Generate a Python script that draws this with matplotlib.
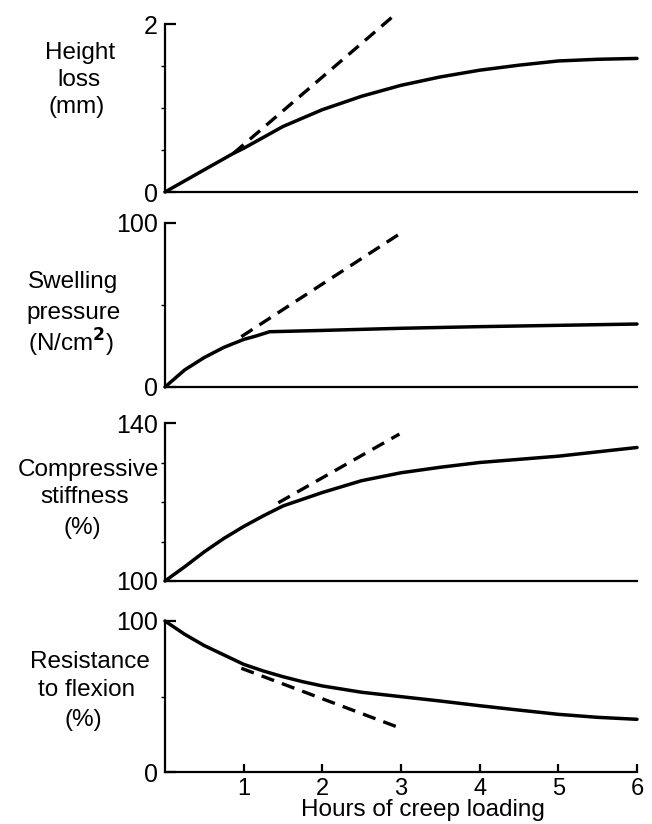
import numpy as np
import matplotlib
matplotlib.use("Agg")
import matplotlib.pyplot as plt

plt.rcParams['font.family'] = ['Liberation Sans', 'DejaVu Sans']

# panel 1 - height loss (mm)
height_x = [0, 0.5, 0.87, 1, 1.25, 1.5, 1.75, 2, 2.5, 3, 3.5, 4, 4.5, 5, 5.5, 6]
height_loss = [0, 0.265, 0.46, 0.52, 0.65, 0.78, 0.88, 0.98, 1.14, 1.27, 1.37, 1.45, 1.51, 1.56, 1.58, 1.59]
height_tan_x = [0.87, 2.96]
height_tan_y = [0.46, 2.14]

# panel 2 - swelling pressure (N/cm2)
swell_x = [0, 0.25, 0.5, 0.75, 1.0, 1.15, 1.33, 2, 3, 4, 5, 6]
swell_y = [0, 10.4, 18, 24.2, 29, 31, 33.7, 34.5, 35.8, 36.8, 37.6, 38.4]
swell_tan_x = [0.97, 2.98]
swell_tan_y = [30.7, 93.3]

# panel 3 - compressive stiffness (%)
stiff_x = [0, 0.25, 0.5, 0.75, 1, 1.25, 1.5, 2, 2.5, 3, 3.5, 4, 4.5, 5, 5.5, 6]
stiff = [100, 103.6, 107.4, 110.8, 113.8, 116.5, 119, 122.4, 125.4, 127.4, 128.8, 130,
         130.8, 131.6, 132.7, 133.8]
stiff_tan_x = [1.44, 2.98]
stiff_tan_y = [119.8, 137.2]

# panel 4 - resistance to flexion (%)
resist_x = [0, 0.25, 0.5, 0.75, 1, 1.25, 1.5, 1.75, 2, 2.5, 3, 3.5, 4, 4.5, 5, 5.5, 6]
resist = [100, 91.2, 83.7, 77.5, 71.3, 66.9, 63.1, 59.8, 57, 52.8, 49.9, 47, 43.9, 41,
          38.2, 36.2, 34.9]
resist_tan_x = [0.97, 3.0]
resist_tan_y = [68.7, 28.9]

ylabel_lines = [["Height", "loss", "(mm)"],
                ["Swelling", "pressure", "(N/cm$^{\\mathbf{2}}$)"],
                ["Compressive", "stiffness", "(%)"],
                ["Resistance", "to flexion", "(%)"]]
ylims = [(0, 2), (0, 100), (100, 140), (0, 100)]
minor = [[0.5, 1.0, 1.5], [50], [110, 120, 130], [50]]
xtick_vals = [1, 2, 3, 4, 5, 6]

fig = plt.figure(figsize=(6.52, 8.24), dpi=100)
W, H = 652., 824.
left, right = 165, 637
boxes = [(24, 192), (223, 387), (423, 581), (621, 772)]
# pixel centres of each label line
label_xy = [[(80, 53), (79, 80), (77, 107)],
            [(73, 282), (74, 313), (71, 343)],
            [(88, 470), (85, 497), (82, 528)],
            [(90, 662), (87, 690), (83, 720)]]

series = [
    (height_x, height_loss, height_tan_x, height_tan_y),
    (swell_x, swell_y, swell_tan_x, swell_tan_y),
    (stiff_x, stiff, stiff_tan_x, stiff_tan_y),
    (resist_x, resist, resist_tan_x, resist_tan_y),
]

for i, (top, bot) in enumerate(boxes):
    ax = fig.add_axes([left / W, (H - bot) / H, (right - left) / W, (bot - top) / H])
    x, y, tx, ty = series[i]
    ax.plot(x, y, color='black', lw=2.5, solid_capstyle='round',
            solid_joinstyle='round', clip_on=False)
    ax.plot(tx, ty, color='black', lw=2.4, dashes=(4, 2.5), clip_on=False)
    ax.set_xlim(0, 6)
    ax.set_ylim(*ylims[i])
    for s in ['top', 'right']:
        ax.spines[s].set_visible(False)
    for s in ['left', 'bottom']:
        ax.spines[s].set_linewidth(1.6)
    ax.set_yticks(list(ylims[i]))
    ax.set_yticklabels([f"{v:g}" for v in ylims[i]], fontsize=18)
    ax.set_yticks(minor[i], minor=True)
    ax.tick_params(axis='y', which='major', direction='in', length=8, width=1.6, pad=5)
    ax.tick_params(axis='y', which='minor', direction='out', length=3, width=1)
    if i < 3:
        ax.set_xticks([])
    else:
        ax.set_xticks(xtick_vals)
        ax.set_xticklabels([str(v) for v in xtick_vals])
        ax.tick_params(axis='x', direction='in', length=6, width=1.6, labelsize=17, pad=4)
    for line, (px, py) in zip(ylabel_lines[i], label_xy[i]):
        fig.text(px / W, 1 - py / H, line, ha='center', va='center', fontsize=17.5)

fig.text(423 / W, 1 - 810 / H, "Hours of creep loading", ha='center', va='center', fontsize=17.5)

fig.savefig("out.png", dpi=100)
